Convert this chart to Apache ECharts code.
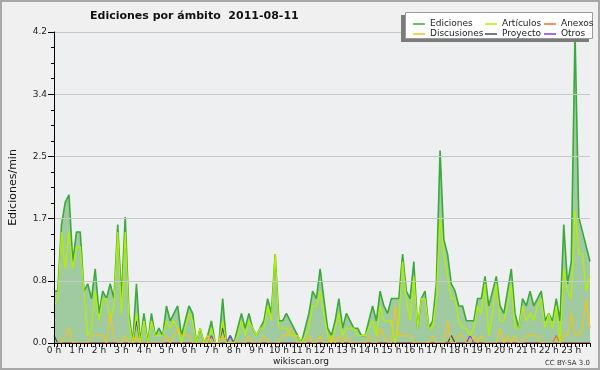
<!DOCTYPE html>
<html>
<head>
<meta charset="utf-8">
<script src="https://cdn.jsdelivr.net/npm/echarts@6/dist/echarts.min.js"></script>
<style>
html,body{margin:0;padding:0;background:#f0f0f0;}
#chart{width:600px;height:370px;}
</style>
</head>
<body>
<div id="chart"></div>
<script>
// Tick labels (one per hour) and 10-minute categories
const hourLabels = ['0 h','1 h','2 h','3 h','4 h','5 h','6 h','7 h','8 h','9 h','10 h','11 h',
  '12 h','13 h','14 h','15 h','16 h','17 h','18 h','19 h','20 h','21 h','22 h','23 h'];
const slotsPerHour = 6;
const yTicks = [0, 0.84, 1.68, 2.52, 3.36, 4.2];

// Ediciones/min per 10-minute slot
const ediciones = [
0.7,0.7,1.6,1.9,2.0,1.1,1.5,1.5,0.7,0.8,
0.6,1.0,0.4,0.7,0.6,0.8,0.6,1.6,0.6,1.7,
0.4,0.0,0.8,0.0,0.4,0.0,0.4,0.1,0.2,0.1,
0.5,0.3,0.4,0.5,0.1,0.3,0.5,0.4,0.0,0.2,
0.0,0.1,0.3,0.0,0.0,0.6,0.0,0.1,0.0,0.2,
0.4,0.2,0.4,0.2,0.1,0.2,0.3,0.6,0.4,1.2,
0.3,0.3,0.4,0.3,0.2,0.1,0.0,0.2,0.4,0.7,
0.6,1.0,0.6,0.2,0.1,0.3,0.6,0.2,0.4,0.3,
0.2,0.2,0.1,0.1,0.3,0.5,0.3,0.7,0.5,0.4,
0.6,0.6,0.6,1.2,0.7,0.6,1.1,0.2,0.6,0.7,
0.2,0.3,0.8,2.6,1.4,1.2,0.8,0.7,0.5,0.5,
0.3,0.3,0.3,0.6,0.6,0.9,0.5,0.7,0.9,0.5,
0.4,0.7,1.0,0.4,0.2,0.6,0.5,0.7,0.5,0.6,
0.7,0.3,0.4,0.3,0.6,0.3,1.6,0.8,1.1,4.2,
1.7,1.5,1.3,1.1];

const articulos = [
0.5,0.6,1.5,1.0,1.5,1.0,1.3,1.3,0.7,0.1,
0.2,0.7,0.3,0.6,0.6,0.3,0.5,1.5,0.4,1.5,
0.3,0.0,0.4,0.0,0.3,0.0,0.3,0.1,0.1,0.1,
0.3,0.2,0.3,0.2,0.0,0.2,0.4,0.3,0.0,0.2,
0.0,0.0,0.2,0.0,0.0,0.3,0.0,0.0,0.0,0.1,
0.3,0.1,0.3,0.2,0.1,0.2,0.2,0.5,0.3,1.2,
0.2,0.2,0.2,0.1,0.1,0.1,0.0,0.1,0.2,0.5,
0.5,0.7,0.4,0.1,0.0,0.2,0.4,0.1,0.2,0.2,
0.2,0.1,0.1,0.1,0.2,0.3,0.1,0.5,0.3,0.3,
0.3,0.0,0.3,1.1,0.6,0.3,0.9,0.2,0.6,0.6,
0.2,0.2,0.6,1.7,1.2,0.9,0.6,0.6,0.3,0.2,
0.2,0.1,0.2,0.5,0.4,0.8,0.1,0.4,0.8,0.3,
0.3,0.5,0.8,0.2,0.2,0.5,0.3,0.4,0.3,0.5,
0.6,0.2,0.4,0.2,0.5,0.0,1.0,0.7,0.6,1.8,
1.2,1.2,0.7,0.9];

const discusiones = [
0,0,0,0.1,0.2,0,0,0,0,0,
0.1,0.1,0.1,0.1,0,0.4,0.1,0,0,0.1,
0,0,0.1,0,0,0,0,0,0,0,
0.1,0,0.1,0.2,0.1,0.1,0.1,0,0,0,
0,0.1,0,0,0,0.1,0,0,0,0,
0,0,0.1,0,0,0,0.1,0,0,0,
0,0.1,0.1,0.2,0.1,0,0,0,0.1,0,
0,0.1,0,0,0.1,0,0.1,0,0.1,0,
0,0,0,0,0.1,0,0,0.2,0.1,0,
0,0.5,0.1,0.1,0.1,0.1,0,0,0,0,
0,0.1,0,0,0,0.3,0,0,0.1,0.1,
0,0,0.1,0,0.1,0,0,0,0,0.2,
0,0.1,0,0.1,0,0,0.1,0.1,0.1,0.1,
0,0,0,0,0,0,0.1,0.1,0.4,0.1,
0.1,0.2,0.6,0.2];

const anexos = [
0,0,0,0,0,0,0,0,0,0, 0,0,0,0,0,0,0,0,0,0, 0,0,0,0,0,0,0,0,0,0,
0,0,0,0,0,0,0,0,0,0, 0,0,0,0,0,0,0,0,0,0, 0,0,0,0,0,0,0,0,0,0,
0,0,0,0,0,0,0,0,0,0, 0,0,0,0,0,0,0,0,0,0, 0,0,0,0,0,0,0,0,0,0,
0,0,0,0,0,0,0,0,0,0, 0,0,0,0,0,0,0,0,0,0, 0,0,0,0,0,0,0,0,0,0,
0,0,0,0,0,0,0,0,0,0, 0,0,0,0,0.1,0,0,0,0,0, 0,0,0,0];

const proyecto = [
0.1,0,0,0,0,0,0,0,0,0, 0,0,0,0,0,0,0,0,0,0, 0,0,0.3,0,0,0,0,0,0,0,
0,0,0,0,0,0,0,0,0,0, 0,0,0,0,0,0.2,0,0,0,0, 0,0,0,0,0,0,0,0,0,0,
0,0,0,0,0,0,0,0,0,0, 0,0,0,0,0,0,0,0,0,0, 0,0,0,0,0,0,0,0,0,0,
0,0,0,0,0,0,0,0,0,0, 0,0,0,0,0,0,0.1,0,0,0, 0,0,0,0,0,0,0,0,0,0,
0,0,0,0,0,0,0,0,0,0, 0,0,0,0,0,0,0,0,0,0, 0,0,0,0];

const otros = [
0,0,0,0,0,0,0,0,0,0, 0,0,0,0,0,0,0,0,0,0, 0,0,0,0,0,0,0,0,0,0,
0,0,0,0,0,0,0,0,0,0, 0,0,0.1,0,0,0,0,0.1,0,0, 0,0,0,0,0,0,0,0,0,0,
0,0,0,0,0,0,0,0,0,0, 0,0,0,0,0,0,0,0,0,0, 0,0,0,0,0,0,0,0,0,0,
0,0,0,0,0,0,0,0,0,0, 0,0,0,0,0,0,0,0,0,0, 0,0.1,0,0,0,0,0,0,0,0,
0,0,0,0,0,0,0,0,0,0, 0,0,0,0,0,0,0,0,0,0, 0,0,0,0];

const categories = [];
hourLabels.forEach(function(h){ for (let k = 0; k < slotsPerHour; k++) categories.push(k === 0 ? h : h + ' ' + (k*10)); });

const FONT = 'DejaVu Sans';
const chart = echarts.init(document.getElementById('chart'), null, {renderer:'canvas'});

function lineSeries(name, data, color, width, z, area) {
  const s = {
    name: name, type: 'line', data: data, color: color,
    symbol: 'none', smooth: false, z: z, silent: true,
    lineStyle: {color: color, width: width}
  };
  if (area) s.areaStyle = {color: area, opacity: 1};
  return s;
}

chart.setOption({
  backgroundColor: '#f0f0f0',
  animation: false,
  title: {
    text: 'Ediciones por ámbito  2011-08-11',
    left: 85, top: 6,
    textStyle: {fontFamily: FONT, fontSize: 11, fontWeight: 'bold', color: '#111'}
  },
  grid: {left: 46, right: 10, top: 32, bottom: 27, show: true, backgroundColor: '#edeff1', borderWidth: 0},
  legend: [
    {data: ['Ediciones','Discusiones'], orient: 'vertical', left: 408, top: 14, itemGap: 0,
     itemWidth: 12, itemHeight: 1.5, icon: 'rect', z: 20,
     textStyle: {fontFamily: FONT, fontSize: 9, color: '#222', lineHeight: 10}},
    {data: ['Artículos','Proyecto'], orient: 'vertical', left: 480, top: 14, itemGap: 0,
     itemWidth: 12, itemHeight: 1.5, icon: 'rect', z: 20,
     textStyle: {fontFamily: FONT, fontSize: 9, color: '#222', lineHeight: 10}},
    {data: ['Anexos','Otros'], orient: 'vertical', left: 539, top: 14, itemGap: 0,
     itemWidth: 12, itemHeight: 1.5, icon: 'rect', z: 20,
     textStyle: {fontFamily: FONT, fontSize: 9, color: '#222', lineHeight: 10}}
  ],
  xAxis: {
    type: 'category', data: categories, boundaryGap: false, z: 10,
    axisLine: {show: true, lineStyle: {color: '#000', width: 1}},
    axisTick: {show: true, interval: 0, length: 4, lineStyle: {color: '#000'}},
    axisLabel: {
      interval: function(i){ return i % slotsPerHour === 0; },
      formatter: function(v, i){ return i % slotsPerHour === 0 ? hourLabels[i / slotsPerHour] : ''; },
      fontFamily: FONT, fontSize: 9, color: '#222', margin: 3
    },
    splitLine: {show: false}
  },
  yAxis: {
    type: 'value', min: yTicks[0], max: yTicks[yTicks.length-1], interval: yTicks[1], z: 10,
    name: 'Ediciones/min', nameLocation: 'middle', nameGap: 35, nameRotate: 90,
    nameTextStyle: {fontFamily: FONT, fontSize: 11, color: '#111'},
    axisLine: {show: true, lineStyle: {color: '#000', width: 1}},
    axisTick: {show: true, length: 6, lineStyle: {color: '#000'}},
    minorTick: {show: true, splitNumber: 4, length: 3, lineStyle: {color: '#000'}},
    axisLabel: {formatter: function(v){ return v.toFixed(1); }, fontFamily: FONT, fontSize: 9, color: '#222', margin: 7},
    splitLine: {show: true, lineStyle: {color: '#c8c8c8', width: 1}}
  },
  series: [
    lineSeries('Ediciones', ediciones, '#3aaa3a', 1.6, 2, '#a0cba0'),
    lineSeries('Otros', otros, '#8a3ae0', 1.2, 3),
    lineSeries('Proyecto', proyecto, '#4a4a4a', 1.2, 3),
    lineSeries('Anexos', anexos, '#f06a30', 1.2, 3),
    lineSeries('Artículos', articulos, '#b2f000', 1.3, 4),
    lineSeries('Discusiones', discusiones, '#f2c21e', 1.2, 5)
  ],
  graphic: [
    {type: 'rect', z: 15, silent: true, shape: {x: 401, y: 15, width: 188, height: 27}, style: {fill: '#7b7b7b'}},
    {type: 'rect', z: 16, silent: true, shape: {x: 405.5, y: 12.5, width: 187, height: 26}, style: {fill: '#ffffff', stroke: '#9a9a9a', lineWidth: 1}},
    {type: 'text', z: 16, silent: true, x: 301, y: 362, style: {text: 'wikiscan.org', fontFamily: FONT, fontSize: 9, fill: '#222', textAlign: 'center', textVerticalAlign: 'middle'}},
    {type: 'text', z: 16, silent: true, x: 590, y: 363, style: {text: 'CC BY-SA 3.0', fontFamily: FONT, fontSize: 7, fill: '#333', textAlign: 'right', textVerticalAlign: 'middle'}},
    {type: 'rect', z: 30, silent: true, shape: {x: 1, y: 1, width: 598, height: 368}, style: {fill: 'none', stroke: '#a8a8a8', lineWidth: 2}}
  ]
});
</script>
</body>
</html>
